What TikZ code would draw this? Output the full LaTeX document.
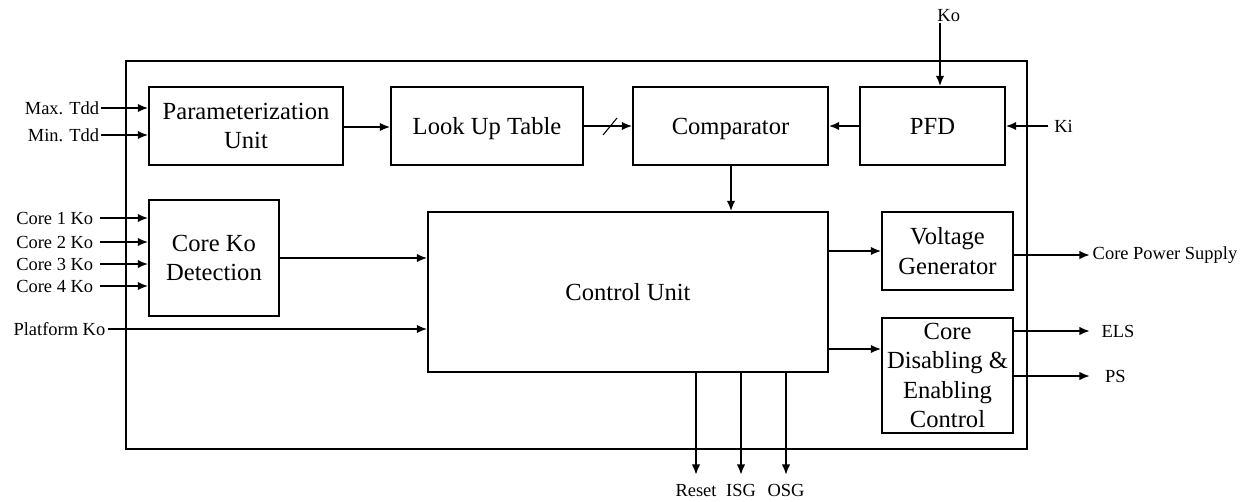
\documentclass[tikz,border=0pt]{standalone}
\usepackage{fontspec}
\setmainfont{Liberation Serif}
\usetikzlibrary{arrows.meta,positioning,calc}
\tikzset{
	blk/.style={draw,line width=0.8pt,align=center,inner sep=1pt,font=\fontsize{14}{16.7}\selectfont},
	oneline/.style={text depth=0pt},
	sig/.style={line width=1.1pt,-{Latex[length=6pt,width=4.8pt]}},
	lbl/.style={font=\fontsize{10.5}{12}\selectfont}
}

\begin{document}
\begin{tikzpicture}[x=0.02cm,y=-0.02cm]
		\useasboundingbox (0,0) rectangle (1250,501);
		\draw[line width=0.8pt] (126,61) rectangle (1027,449);

		\node[blk,minimum width=3.88cm,minimum height=1.56cm] (param) at (246,126) {Parameterization\\Unit};
		\node[blk,oneline,minimum width=3.84cm,minimum height=1.56cm] (lut) at (487,126) {Look Up Table};
		\node[blk,oneline,minimum width=3.9cm,minimum height=1.56cm] (comp) at (730.5,126) {Comparator};
		\node[blk,oneline,minimum width=2.9cm,minimum height=1.56cm] (pfd) at (932.5,126) {PFD};
		\node[blk,minimum width=2.6cm,minimum height=2.32cm] (coreko) at (214,258) {Core Ko\\Detection};
		\node[blk,oneline,minimum width=8cm,minimum height=3.2cm] (ctrl) at (628,292) {Control Unit};
		\node[blk,minimum width=2.62cm,minimum height=1.56cm] (volt) at (947.5,251) {Voltage\\Generator};
		\node[blk,inner sep=0pt,minimum width=2.62cm,minimum height=2.3cm] (cde) at (947.5,375.5) {Core\\Disabling \&\\Enabling\\Control};

		\coordinate (maxin) at (101,108);
		\coordinate (minin) at (101,135);
		\coordinate (c1in) at (100,218);
		\coordinate (c2in) at (100,242);
		\coordinate (c3in) at (100,264);
		\coordinate (c4in) at (100,286);
		\coordinate (platin) at (108,329);
		\coordinate (koin) at (940,23);
		\coordinate (kiin) at (1048,126);
		\coordinate (cps) at (1090,255);
		\coordinate (els) at (1090,331);
		\coordinate (ps) at (1090,376);
		\coordinate (rst) at (696,475);
		\coordinate (isg) at (741,475);
		\coordinate (osg) at (786,475);

		\draw[sig] (maxin) node[lbl,left,inner sep=0.5pt]{Max. Tdd} -- (param.west |- maxin);
		\draw[sig] (minin) node[lbl,left,inner sep=0.5pt]{Min. Tdd} -- (param.west |- minin);
		\draw[sig] (param.east |- 0,127) -- (lut.west |- 0,127);
		\draw[sig] (lut) -- (comp);
		\draw[line width=0.6pt] (603,135) -- (617,118);
		\draw[sig] (pfd) -- (comp);
		\draw[sig] (koin) node[lbl,anchor=south west,inner sep=0pt,xshift=-2pt]{Ko} -- (pfd.north -| koin);
		\draw[sig] (kiin) node[lbl,right,inner sep=3pt]{Ki} -- (pfd.east);
		\draw[sig] (comp.south -| 731,0) -- (ctrl.north -| 731,0);

		\draw[sig] (c1in) node[lbl,left]{Core 1 Ko} -- (coreko.west |- c1in);
		\draw[sig] (c2in) node[lbl,left]{Core 2 Ko} -- (coreko.west |- c2in);
		\draw[sig] (c3in) node[lbl,left]{Core 3 Ko} -- (coreko.west |- c3in);
		\draw[sig] (c4in) node[lbl,left]{Core 4 Ko} -- (coreko.west |- c4in);
		\draw[sig] (coreko) -- (ctrl.west |- coreko);
		\draw[sig] (platin) node[lbl,left,inner sep=1pt]{Platform Ko} -- (ctrl.west |- platin);

		\draw[sig] (ctrl.east |- volt) -- (volt.west);
		\draw[sig] (ctrl.east |- 0,349) -- (cde.west |- 0,349);
		\draw[sig] (volt.east |- cps) -- (cps) node[lbl,right,inner sep=1pt]{Core Power Supply};
		\draw[sig] (cde.east |- els) -- (els) node[lbl,right,inner sep=6pt]{ELS};
		\draw[sig] (cde.east |- ps) -- (ps) node[lbl,right,inner sep=8pt]{PS};

		\draw[sig] (ctrl.south -| rst) -- (rst) node[lbl,below,inner sep=5pt]{Reset};
		\draw[sig] (ctrl.south -| isg) -- (isg) node[lbl,below,inner sep=5pt]{ISG};
		\draw[sig] (ctrl.south -| osg) -- (osg) node[lbl,below,inner sep=5pt]{OSG};
	\end{tikzpicture}
\end{document}
